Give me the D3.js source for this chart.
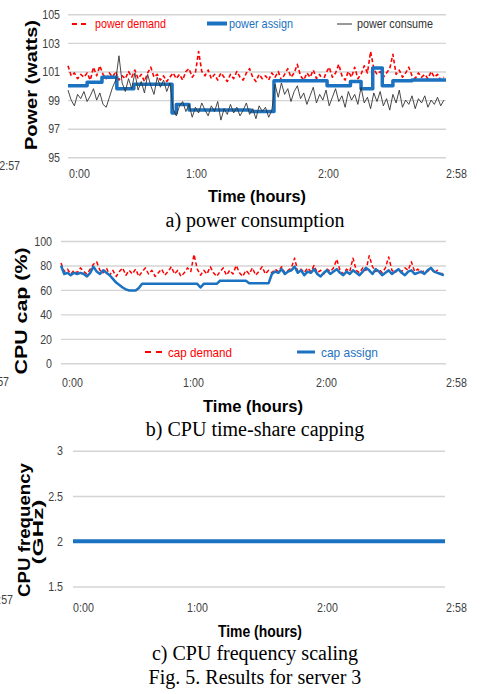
<!DOCTYPE html>
<html>
<head>
<meta charset="utf-8">
<script src="https://cdn.jsdelivr.net/npm/d3@7"></script>
<style>
body { margin: 0; background: #fff; }
text { font-family: "Liberation Sans Narrow", "Arial Narrow", "Liberation Sans", Arial, sans-serif; }
.tick text { font-size: 13px; fill: #404040; }
.grid line { stroke: #d4d4d4; stroke-width: 1.4; }
.title { font-family: "Liberation Sans", Arial, sans-serif; font-weight: bold; fill: #000; }
.caption { font-family: "Liberation Serif", "Times New Roman", serif; font-size: 20px; fill: #000; }
.legend { font-size: 13px; }
</style>
</head>
<body>
<svg id="fig" width="481" height="694"></svg>
<script>
// sample times in minutes (one reading every 1.5 min, 0:00 .. 2:57)
var times = d3.range(119).map(function (i) { return i * 1.5; });

var timeLabels = ["0:00", "1:00", "2:00", "2:58"];
var labelMinutes = [0, 60, 120, 178];

// a) power (watts)
var powerDemand = [
    101.4, 100.7, 100.9, 100.5, 100.8, 100.6, 100.9, 100.4, 101.3, 100.7,
    101.4, 100.8, 100.5, 100.9, 100.6, 101.0, 100.4, 100.7, 100.5, 101.0,
    100.6, 101.1, 100.5, 100.8, 100.3, 100.9, 101.3, 100.6, 100.8, 100.4,
    100.7, 100.3, 100.6, 100.9, 100.5, 100.8, 100.4, 101.0, 101.2, 100.6,
    100.9, 102.4, 101.0, 100.7, 101.1, 100.5, 100.8, 100.4, 100.9, 100.6,
    100.3, 100.8, 100.5, 101.0, 100.6, 100.4, 100.9, 101.2, 100.6, 100.3,
    100.8, 100.5, 100.7, 100.4, 100.9, 100.6, 101.0, 100.4, 100.8, 101.2,
    100.6, 100.9, 101.5, 100.7, 100.4, 100.9, 100.6, 101.1, 100.5, 100.8,
    100.3, 100.9, 101.3, 100.6, 100.9, 101.5, 100.7, 100.4, 101.0, 100.6,
    101.3, 100.5, 100.8, 101.4, 100.9, 102.4, 101.2, 100.8, 101.0, 100.6,
    100.9, 101.2, 102.2, 100.8, 101.1, 100.6, 100.9, 101.3, 100.7, 100.5,
    100.9, 100.6, 100.8, 100.5, 101.0, 100.6, 100.8, 100.4, 100.6
];
var powerConsume = [
    99.7, 99.0, 98.6, 99.4, 99.1, 99.6, 98.9, 99.3, 99.8, 99.0,
    99.5, 98.7, 98.5, 99.2, 99.9, 100.4, 102.1, 100.2, 99.6, 100.5,
    99.8, 100.9, 99.7, 100.3, 99.5, 100.8, 100.0, 99.4, 100.6, 99.9,
    100.4, 99.6, 100.2, 98.4, 97.9, 98.6, 98.9, 98.2, 98.7, 97.8,
    98.5, 98.1, 98.8, 98.3, 97.9, 98.6, 98.2, 98.9, 97.6, 98.4,
    98.0, 98.7, 98.1, 98.5, 97.9, 98.3, 98.8, 98.0, 98.4, 97.7,
    98.6, 98.2, 98.5, 97.8, 98.3, 100.1, 99.2, 100.2, 99.4, 99.8,
    98.9, 99.6, 100.0, 99.1, 99.5, 98.7, 99.3, 99.9, 98.8, 99.4,
    99.0, 99.7, 98.6, 99.2, 99.8, 98.9, 99.3, 98.5, 99.6, 99.0,
    99.4, 98.7, 99.9, 98.8, 99.2, 98.4, 99.5, 98.9, 99.6, 98.6,
    99.1, 98.3, 99.4, 98.8, 99.7, 98.5, 99.0, 98.7, 99.3, 98.4,
    99.1, 98.8, 99.3, 98.5, 99.0, 98.7, 99.2, 98.6, 99.0
];
// power assign is a step series: start minute of each level and its value
var assignTimes = [0, 9, 16, 23, 31, 49, 51, 57, 86, 97, 122, 133, 138, 143.5, 148, 153, 162, 178];
var assignWatts = [100.0, 100.25, 100.6, 99.8, 100.1, 98.1, 98.7, 98.3, 98.2, 100.35, 100.0, 100.3, 99.8, 101.25, 100.0, 100.35, 100.4, 100.4];

// b) CPU cap (%)
var capDemand = [
    82, 75, 77, 73, 76, 74, 78, 75, 73, 77, 81, 83, 76, 74, 78, 72, 76, 71, 75, 78,
    72, 76, 73, 77, 71, 75, 78, 73, 76, 71, 74, 77, 72, 75, 79, 73, 76, 71, 74, 78,
    75, 89, 77, 72, 76, 73, 79, 74, 71, 75, 78, 72, 76, 73, 80, 74, 71, 76, 73, 78,
    72, 75, 79, 73, 76, 74, 77, 75, 79, 74, 76, 78, 86, 75, 77, 74, 78, 75, 80, 74,
    76, 73, 77, 75, 78, 85, 76, 73, 77, 75, 86, 76, 74, 78, 76, 88, 79, 75, 77, 74,
    78, 87, 76, 74, 77, 75, 78, 76, 83, 75, 77, 74, 76, 75, 78, 74, 76, 73, 74
];
var capAssign = [
    80, 73, 74, 72, 74, 73, 74, 73, 71, 74, 79, 75, 73, 76, 74, 72, 69, 66, 64, 62,
    60.5, 59.5, 59.5, 59.5, 61.5, 65, 65, 65, 65, 65, 65, 65, 65, 65, 65, 65, 65, 65, 65, 65,
    65, 65, 65, 62, 65, 65, 65, 65, 65, 67.5, 67.5, 67.5, 67.5, 67.5, 67.5, 67.5, 67.5, 67.5, 65.5, 65.5,
    65.5, 65.5, 65.5, 65.5, 65.5, 73, 75, 74, 77, 73, 75, 76, 79, 74, 76, 72, 75, 74, 77, 73,
    71, 74, 76, 73, 75, 77, 74, 72, 75, 73, 76, 74, 72, 75, 78, 76, 73, 77, 75, 72,
    74, 76, 73, 75, 77, 74, 72, 75, 76, 73, 74, 75, 73, 76, 78, 75, 74, 73, 72
];

// c) CPU frequency (GHz)
var freqTimes = [0, 178];
var freqGHz = [2, 2];

var svg = d3.select("#fig");

// squeeze text to a narrow look (no condensed face installed)
function narrow(sel) {
    sel.attr("textLength", function () { return this.getComputedTextLength() * 0.82; })
        .attr("lengthAdjust", "spacingAndGlyphs");
}

function grid(x, y, ticks, pad, fmt) {
    svg.append("g")
        .attr("class", "grid")
        .attr("transform", "translate(" + x.range()[0] + ",0)")
        .call(d3.axisLeft(y).tickValues(ticks).tickFormat(fmt || d3.format("d"))
            .tickSize(-(x.range()[1] - x.range()[0])).tickPadding(pad))
        .call(function (g) { g.select(".domain").remove(); })
        .selectAll("text").call(narrow);
}

function timeAxis(xs, baseline) {
    var s = d3.scaleLinear().domain(labelMinutes).range(xs);
    svg.append("g")
        .attr("transform", "translate(0," + (baseline - 9.2) + ")")
        .call(d3.axisBottom(s).tickValues(labelMinutes)
            .tickFormat(function (d, i) { return timeLabels[i]; })
            .tickSize(0).tickPadding(0))
        .call(function (g) { g.select(".domain").remove(); })
        .selectAll("text").call(narrow);
}

function series(x, y, xs, ys, color, width, dash, curve) {
    var line = d3.line()
        .x(function (d) { return x(d[0]); })
        .y(function (d) { return y(d[1]); })
        .curve(curve || d3.curveLinear);
    svg.append("path")
        .datum(d3.zip(xs, ys))
        .attr("fill", "none")
        .attr("stroke", color)
        .attr("stroke-width", width)
        .attr("stroke-dasharray", dash)
        .attr("stroke-linejoin", "round")
        .attr("d", line);
}

function yTitle(label, tx, ty, size, len) {
    svg.append("text")
        .attr("class", "title")
        .attr("transform", "translate(" + tx + "," + ty + ") rotate(-90)")
        .attr("text-anchor", "middle")
        .attr("font-size", size)
        .attr("textLength", len)
        .attr("lengthAdjust", "spacingAndGlyphs")
        .text(label);
}

function xTitle(cx, baseline, size, len) {
    svg.append("text")
        .attr("class", "title")
        .attr("x", cx).attr("y", baseline)
        .attr("text-anchor", "middle")
        .attr("font-size", size)
        .attr("textLength", len)
        .attr("lengthAdjust", "spacingAndGlyphs")
        .text("Time (hours)");
}

function caption(label, baseline) {
    svg.append("text")
        .attr("class", "caption")
        .attr("x", 255).attr("y", baseline)
        .attr("text-anchor", "middle")
        .text(label);
}

// cut-off label of the neighbouring panel
function stub(endX, baseline) {
    svg.append("text")
        .attr("x", endX).attr("y", baseline)
        .attr("text-anchor", "end")
        .attr("font-size", 13).attr("fill", "#404040")
        .text("2:57")
        .call(narrow);
}

function legendKey(x1, x2, y, color, width, dash, label, tx, ty, len) {
    svg.append("line")
        .attr("x1", x1).attr("x2", x2).attr("y1", y).attr("y2", y)
        .attr("stroke", color).attr("stroke-width", width)
        .attr("stroke-dasharray", dash);
    svg.append("text")
        .attr("class", "legend")
        .attr("x", tx).attr("y", ty)
        .attr("fill", color)
        .attr("textLength", len)
        .attr("lengthAdjust", "spacingAndGlyphs")
        .text(label);
}

// ---- a) power consumption
var xa = d3.scaleLinear().domain([0, 178]).range([68, 446]);
var ya = d3.scaleLinear().domain([95, 105]).range([157.3, 14.3]);

grid(xa, ya, [95, 97, 99, 101, 103, 105], 8);
series(xa, ya, times, powerDemand, "#ff0000", 1.6, "4,2.5");
series(xa, ya, assignTimes, assignWatts, "#1b72c0", 3.5, null, d3.curveStepAfter);
series(xa, ya, times, powerConsume, "#333", 0.9);

legendKey(72, 88, 24, "#ff0000", 1.8, "5,4", "power demand", 95, 27.5, 71);
legendKey(207, 227, 23.5, "#1b72c0", 4, null, "power assign", 229, 27.5, 64);
legendKey(337, 352, 24, "#333", 1, null, "power consume", 357, 27.5, 76);

timeAxis([79, 196, 328, 456], 178);
yTitle("Power (watts)", 37, 85, 17, 130);
xTitle(257, 202, 16, 98);
caption("a) power consumption", 227);
stub(20, 170);

// ---- b) CPU time-share capping
var xb = d3.scaleLinear().domain([0, 178]).range([61, 446]);
var yb = d3.scaleLinear().domain([0, 100]).range([363.3, 241]);

grid(xb, yb, [0, 20, 40, 60, 80, 100], 9);
series(xb, yb, times, capDemand, "#ff0000", 1.5, "4,2.5");
series(xb, yb, times, capAssign, "#1b72c0", 2.5);

legendKey(145, 162, 352, "#ff0000", 2, "6,5", "cap demand", 168, 356.5, 64);
legendKey(297, 315, 352, "#1b72c0", 3, null, "cap assign", 321, 356.5, 57);

timeAxis([72, 193, 326, 456], 387);
yTitle("CPU cap (%)", 27, 311, 17, 127);
xTitle(253, 412, 16, 100);
caption("b) CPU time-share capping", 436);
stub(9, 386);

// ---- c) CPU frequency scaling
var xc = d3.scaleLinear().domain([0, 178]).range([73, 445]);
var yc = d3.scaleLinear().domain([1.5, 3]).range([586.5, 450.7]);

grid(xc, yc, [1.5, 2, 2.5, 3], 10, function (d) { return String(d); });
series(xc, yc, freqTimes, freqGHz, "#1b72c0", 4);

timeAxis([83, 197, 327, 456], 612);
yTitle("CPU frequency", 29.5, 530, 16, 134);
yTitle("(GHz)", 43, 532, 14, 65);
xTitle(260, 637, 16, 84);
caption("c) CPU frequency scaling", 660);
caption("Fig. 5. Results for server 3", 684);
stub(13, 604);
</script>
</body>
</html>
